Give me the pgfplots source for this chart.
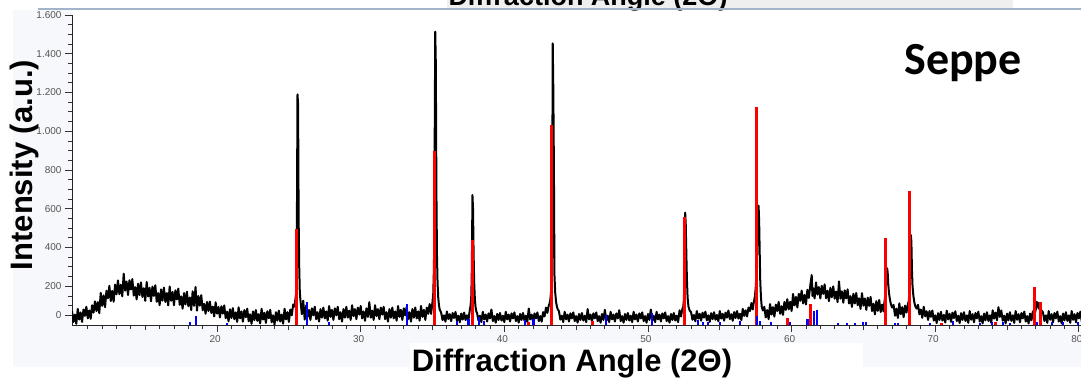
\documentclass[border=0pt]{standalone}
\usepackage{fontspec}
\setmainfont{Liberation Sans}
\newfontfamily\carlito{Carlito}
\usepackage{pgfplots}
\pgfplotsset{compat=1.18}
\definecolor{tickgray}{HTML}{555555}
\definecolor{panel}{HTML}{F6F8FB}
\definecolor{topband}{HTML}{EFEFEF}
\definecolor{topline}{HTML}{A3B3CA}
\definecolor{stickred}{HTML}{FF0000}
\definecolor{stickblue}{HTML}{0000FF}
\begin{document}
\begin{tikzpicture}
\useasboundingbox (0pt,0pt) rectangle (1081pt,-379pt);
\fill[panel] (13pt,-10pt) rectangle (1081pt,-367pt);
\fill[white] (72pt,-10pt) rectangle (1081pt,-325pt);
\fill[topband] (447pt,0pt) rectangle (1013pt,-8pt);
\node[anchor=base, font=\bfseries\fontsize{27}{32}\selectfont, inner sep=0pt] at (588pt,-6pt) {Diffraction Angle (2Θ)};
\draw[topline, line width=2pt] (38pt,-9pt) -- (1081pt,-9pt);
\fill[white] (410pt,-343pt) rectangle (863pt,-379pt);
\begin{axis}[
  at={(72pt,-325pt)}, anchor=south west,
  scale only axis, width=1009pt, height=310pt,
  xmin=9.9, xmax=80.15, ymin=0, ymax=1600,
  axis x line*=bottom, axis y line*=left,
  axis line style={-, color=black!85, line width=1pt},
  xtick={20,30,...,80}, minor xtick={11,12,...,80},
  extra x ticks={15,25,...,75}, extra x tick labels={},
  extra x tick style={major tick length=5pt},
  ytick={200,400,...,1600},
  minor ytick={100,150,250,300,350,450,500,550,650,700,750,850,900,950,1050,1100,1150,1250,1300,1350,1450,1500,1550},
  extra y ticks={52}, extra y tick labels={0},
  tick align=outside, major tick length=7pt, minor tick length=3.5pt,
  tick style={color=black!80, line width=0.8pt},
  tick label style={font=\fontsize{10}{12}\selectfont, color=tickgray},
  xticklabel style={xshift=-2pt},
  scaled y ticks=false, scaled x ticks=false,
  /pgf/number format/assume math mode=true,
  /pgf/number format/1000 sep={.},
]
\addplot[black, line width=2pt, line join=round, no marks] coordinates {
(9.9,72)(10.0,16)(10.1,54)(10.2,6)(10.3,83)(10.4,28)(10.5,65)(10.6,16)(10.7,80)(10.8,47)(10.9,94)(11.0,34)(11.1,75)(11.2,32)(11.3,102)(11.4,64)(11.5,122)(11.6,72)(11.7,118)(11.8,61)(11.9,166)(12.0,99)(12.1,153)(12.2,92)(12.3,177)(12.4,138)(12.5,202)(12.6,124)(12.7,176)(12.8,120)(12.9,209)(13.0,158)(13.1,230)(13.2,159)(13.3,208)(13.4,148)(13.5,265)(13.6,177)(13.7,224)(13.8,155)(13.9,231)(14.0,183)(14.1,237)(14.2,152)(14.3,196)(14.4,132)(14.5,213)(14.6,154)(14.7,220)(14.8,145)(14.9,190)(15.0,125)(15.1,222)(15.2,147)(15.3,192)(15.4,122)(15.5,198)(15.6,150)(15.7,205)(15.8,120)(15.9,165)(16.0,102)(16.1,184)(16.2,126)(16.3,193)(16.4,119)(16.5,165)(16.6,101)(16.7,199)(16.8,125)(16.9,171)(17.0,102)(17.1,179)(17.2,132)(17.3,188)(17.4,104)(17.5,148)(17.6,84)(17.7,165)(17.8,106)(17.9,172)(18.0,97)(18.1,142)(18.2,77)(18.3,174)(18.4,99)(18.5,196)(18.6,74)(18.7,149)(18.8,100)(18.9,154)(19.0,76)(19.1,109)(19.2,58)(19.3,119)(19.4,72)(19.5,121)(19.6,62)(19.7,95)(19.8,44)(19.9,117)(20.0,59)(20.1,93)(20.2,39)(20.3,97)(20.4,59)(20.5,101)(20.6,35)(20.7,69)(20.8,19)(20.9,81)(21.0,36)(21.1,87)(21.2,30)(21.3,65)(21.4,16)(21.5,91)(21.6,34)(21.7,70)(21.8,17)(21.9,77)(22.0,40)(22.1,84)(22.2,19)(22.3,55)(22.4,6)(22.5,70)(22.6,25)(22.7,77)(22.8,21)(22.9,56)(23.0,8)(23.1,84)(23.2,28)(23.3,63)(23.4,11)(23.5,71)(23.6,35)(23.7,78)(23.8,14)(23.9,50)(24.0,2)(24.1,66)(24.2,22)(24.3,74)(24.4,18)(24.5,54)(24.6,7)(24.7,84)(24.8,29)(24.9,66)(25.0,16)(25.1,80)(25.2,50)(25.3,106)(25.4,95)
(25.45,130)(25.50,160)(25.55,400)(25.60,1190)(25.64,1140)(25.68,540)(25.72,300)(25.76,170)
(25.8,132)(25.9,56)(26.0,125)(26.1,28)(26.2,100)(26.3,42)(26.4,78)(26.5,26)(26.6,86)(26.7,50)(26.8,94)(26.9,30)(27.0,66)(27.1,18)(27.2,82)(27.3,38)(27.4,90)(27.5,34)(27.6,70)(27.7,22)(27.8,98)(27.9,42)(28.0,78)(28.1,26)(28.2,86)(28.3,50)(28.4,94)(28.5,30)(28.6,66)(28.7,18)(28.8,82)(28.9,38)(29.0,94)(29.1,38)(29.2,74)(29.3,26)(29.4,102)(29.5,46)(29.6,82)(29.7,30)(29.8,90)(29.9,54)(30.0,98)(30.1,34)(30.2,70)(30.3,22)(30.4,86)(30.5,42)(30.6,118)(30.7,38)(30.8,74)(30.9,26)(31.0,102)(31.1,46)(31.2,82)(31.3,30)(31.4,90)(31.5,54)(31.6,94)(31.7,30)(31.8,66)(31.9,18)(32.0,82)(32.1,38)(32.2,90)(32.3,34)(32.4,70)(32.5,22)(32.6,98)(32.7,42)(32.8,78)(32.9,26)(33.0,86)(33.1,50)(33.2,94)(33.3,30)(33.4,66)(33.5,18)(33.6,82)(33.7,38)(33.8,90)(33.9,34)(34.0,70)(34.1,22)(34.2,98)(34.3,42)(34.4,78)(34.5,26)(34.6,90)(34.7,58)(34.8,108)(34.9,57)(35.0,120)
(35.05,160)(35.10,300)(35.14,800)(35.19,1514)(35.23,1350)(35.27,700)(35.31,361)(35.35,220)(35.40,140)(35.45,100)(35.50,80)
(35.6,64)(35.7,25)(35.8,50)(35.9,17)(36.0,70)(36.1,31)(36.2,56)(36.3,20)(36.4,62)(36.5,36)(36.6,67)(36.7,22)(36.8,48)(36.9,14)(37.0,59)(37.1,28)(37.2,64)(37.3,25)(37.4,50)(37.5,25)(37.6,80)
(37.65,100)(37.70,150)(37.74,300)(37.78,671)(37.82,600)(37.86,371)(37.90,220)(37.95,130)(38.00,90)(38.05,70)
(38.1,62)(38.2,23)(38.3,48)(38.4,15)(38.5,68)(38.6,29)(38.7,54)(38.8,18)(38.9,60)(39.0,34)(39.1,80)(39.2,20)(39.3,46)(39.4,12)(39.5,57)(39.6,26)(39.7,62)(39.8,23)(39.9,48)(40.0,15)(40.1,68)(40.2,29)(40.3,54)(40.4,18)(40.5,60)(40.6,34)(40.7,65)(40.8,20)(40.9,46)(41.0,12)(41.1,57)(41.2,26)(41.3,62)(41.4,23)(41.5,48)(41.6,15)(41.7,85)(41.8,29)(41.9,54)(42.0,18)(42.1,60)(42.2,34)(42.3,65)(42.4,20)(42.5,46)(42.6,17)(42.7,67)(42.8,44)(42.9,90)(43.0,63)(43.1,103)
(43.15,110)(43.20,130)(43.25,170)(43.32,350)(43.37,1454)(43.41,1216)(43.45,830)(43.49,258)(43.54,170)(43.60,120)(43.66,95)(43.72,80)
(43.8,72)(43.9,28)(44.0,48)(44.1,15)(44.2,68)(44.3,29)(44.4,54)(44.5,18)(44.6,60)(44.7,34)(44.8,65)(44.9,20)(45.0,46)(45.1,12)(45.2,57)(45.3,26)(45.4,62)(45.5,23)(45.6,48)(45.7,15)(45.8,82)(45.9,29)(46.0,54)(46.1,18)(46.2,60)(46.3,34)(46.4,65)(46.5,20)(46.6,46)(46.7,12)(46.8,57)(46.9,26)(47.0,78)(47.1,23)(47.2,48)(47.3,15)(47.4,68)(47.5,29)(47.6,54)(47.7,18)(47.8,60)(47.9,34)(48.0,76)(48.1,20)(48.2,46)(48.3,12)(48.4,57)(48.5,26)(48.6,62)(48.7,23)(48.8,48)(48.9,15)(49.0,68)(49.1,29)(49.2,54)(49.3,18)(49.4,60)(49.5,34)(49.6,65)(49.7,20)(49.8,46)(49.9,12)(50.0,57)(50.1,26)(50.2,80)(50.3,23)(50.4,48)(50.5,15)(50.6,68)(50.7,29)(50.8,54)(50.9,18)(51.0,60)(51.1,34)(51.2,65)(51.3,20)(51.4,46)(51.5,12)(51.6,57)(51.7,26)(51.8,62)(51.9,23)(52.0,48)(52.1,15)(52.2,76)(52.3,44)(52.4,85)
(52.45,90)(52.50,130)(52.54,250)(52.59,580)(52.63,520)(52.67,375)(52.71,240)(52.76,140)(52.82,95)(52.90,75)
(53.0,66)(53.1,27)(53.2,52)(53.3,19)(53.4,72)(53.5,33)(53.6,58)(53.7,22)(53.8,64)(53.9,38)(54.0,69)(54.1,24)(54.2,50)(54.3,16)(54.4,61)(54.5,30)(54.6,66)(54.7,27)(54.8,52)(54.9,19)(55.0,72)(55.1,33)(55.2,58)(55.3,22)(55.4,64)(55.5,38)(55.6,75)(55.7,30)(55.8,56)(55.9,22)(56.0,67)(56.1,36)(56.2,72)(56.3,33)(56.4,58)(56.5,25)(56.6,83)(56.7,47)(56.8,76)(56.9,44)(57.0,90)(57.1,72)(57.2,113)(57.3,80)
(57.35,110)(57.40,130)(57.45,150)(57.50,190)(57.55,260)(57.60,380)(57.65,559)(57.70,616)(57.74,540)(57.78,371)(57.82,220)(57.87,140)(57.92,95)(58.00,75)
(58.1,94)(58.2,39)(58.3,77)(58.4,30)(58.5,108)(58.6,54)(58.7,92)(58.8,43)(58.9,105)(59.0,72)(59.1,119)(59.2,58)(59.3,97)(59.4,52)(59.5,119)(59.6,78)(59.7,133)(59.8,81)(59.9,120)(60.0,72)(60.1,160)(60.2,101)(60.3,145)(60.4,91)(60.5,161)(60.6,125)(60.7,178)(60.8,111)(60.9,155)(61.0,106)(61.1,182)(61.2,140)(61.3,203)(61.4,258)(61.45,150)(61.5,191)(61.6,137)(61.7,220)(61.8,157)(61.9,196)(62.0,137)(62.1,202)(62.2,161)(62.3,210)(62.4,138)(62.5,177)(62.6,123)(62.7,192)(62.8,143)(62.9,199)(63.0,136)(63.1,173)(63.2,118)(63.3,225)(63.4,136)(63.5,174)(63.6,115)(63.7,179)(63.8,137)(63.9,184)(64.0,111)(64.1,149)(64.2,93)(64.3,161)(64.4,111)(64.5,165)(64.6,102)(64.7,138)(64.8,83)(64.9,164)(65.0,100)(65.1,137)(65.2,78)(65.3,141)(65.4,99)(65.5,145)(65.6,72)(65.7,110)(65.8,55)(65.9,123)(66.0,73)(66.1,129)(66.2,67)(66.3,105)(66.4,70)
(66.45,110)(66.50,140)(66.55,180)(66.60,240)(66.65,293)(66.69,270)(66.73,210)(66.78,165)(66.85,130)(66.92,105)(67.00,90)
(67.1,104)(67.2,48)(67.3,84)(67.4,36)(67.5,112)(67.6,56)(67.7,92)(67.8,40)(67.9,100)(68.0,64)(68.1,110)
(68.15,120)(68.20,160)(68.25,250)(68.30,465)(68.34,430)(68.38,284)(68.42,200)(68.48,150)(68.55,115)(68.62,95)(68.70,85)
(68.8,104)(68.9,55)(69.0,80)(69.1,37)(69.2,94)(69.3,45)(69.4,71)(69.5,26)(69.6,72)(69.7,42)(69.8,75)(69.9,23)(70.0,50)(70.1,10)(70.2,61)(70.3,26)(70.4,68)(70.5,23)(70.6,52)(70.7,13)(70.8,74)(70.9,29)(71.0,58)(71.1,16)(71.2,64)(71.3,36)(71.4,71)(71.5,20)(71.6,48)(71.7,10)(71.8,61)(71.9,26)(72.0,66)(72.1,21)(72.2,50)(72.3,11)(72.4,72)(72.5,27)(72.6,56)(72.7,14)(72.8,62)(72.9,34)(73.0,69)(73.1,18)(73.2,46)(73.3,8)(73.4,59)(73.5,24)(73.6,66)(73.7,21)(73.8,50)(73.9,11)(74.0,76)(74.1,33)(74.2,64)(74.3,24)(74.4,92)(74.5,42)(74.6,75)(74.7,22)(74.8,48)(74.9,8)(75.0,59)(75.1,24)(75.2,66)(75.3,21)(75.4,50)(75.5,11)(75.6,72)(75.7,27)(75.8,56)(75.9,14)(76.0,62)(76.1,34)(76.2,69)(76.3,18)(76.4,46)(76.5,8)(76.6,59)(76.7,24)(76.8,71)(76.9,50)
(77.0,80)(77.05,120)(77.1,95)(77.15,115)(77.2,85)(77.3,100)(77.35,60)(77.4,75)
(77.5,66)(77.6,21)(77.7,50)(77.8,11)(77.9,72)(78.0,27)(78.1,56)(78.2,14)(78.3,62)(78.4,34)(78.5,69)(78.6,18)(78.7,46)(78.8,8)(78.9,59)(79.0,24)(79.1,66)(79.2,21)(79.3,50)(79.4,11)(79.5,72)(79.6,27)(79.7,56)(79.8,14)(79.9,62)(80.0,34)(80.1,69)(80.2,18)
};
\addplot[ycomb, stickred, line width=3pt, no marks] coordinates {
(25.52,494)(35.14,900)(37.79,439)(41.66,15)(43.31,1032)(46.17,20)(52.54,559)(57.53,1127)(59.74,35)(61.08,30)(61.29,108)(66.56,447)(68.20,693)(70.45,10)(74.23,15)(76.90,198)(77.30,120)
};
\addplot[ycomb, stickblue, line width=2.2pt, no marks] coordinates {
(18.14,15)(18.56,45)(20.70,12)(26.26,120)(27.77,15)(33.22,108)(36.70,20)(37.51,30)(38.25,40)(38.60,20)(41.45,25)(42.03,30)(47.09,50)(50.27,60)(53.51,25)(53.84,15)(54.19,15)(55.03,15)(56.42,20)(57.58,45)(57.81,20)(58.55,15)(59.90,15)(61.10,30)(61.57,70)(61.75,80)(63.21,12)(63.84,12)(64.42,12)(64.98,15)(65.19,15)(67.20,12)(67.41,12)(69.64,12)(71.24,20)(73.12,10)(73.95,15)(74.72,15)(75.21,12)(77.06,15)(78.11,15)(78.89,15)(79.93,15)
};
\end{axis}
\node[anchor=base, rotate=90, font=\bfseries\fontsize{31}{37}\selectfont, inner sep=0pt] at (32pt,-165pt) {Intensity (a.u.)};
\node[anchor=base, font=\bfseries\fontsize{31}{37}\selectfont, inner sep=0pt] at (572pt,-371pt) {Diffraction Angle (2Θ)};
\node[anchor=base, font=\carlito\bfseries\fontsize{46}{55}\selectfont, inner sep=0pt] at (963pt,-75pt) {Seppe};
\end{tikzpicture}
\end{document}
